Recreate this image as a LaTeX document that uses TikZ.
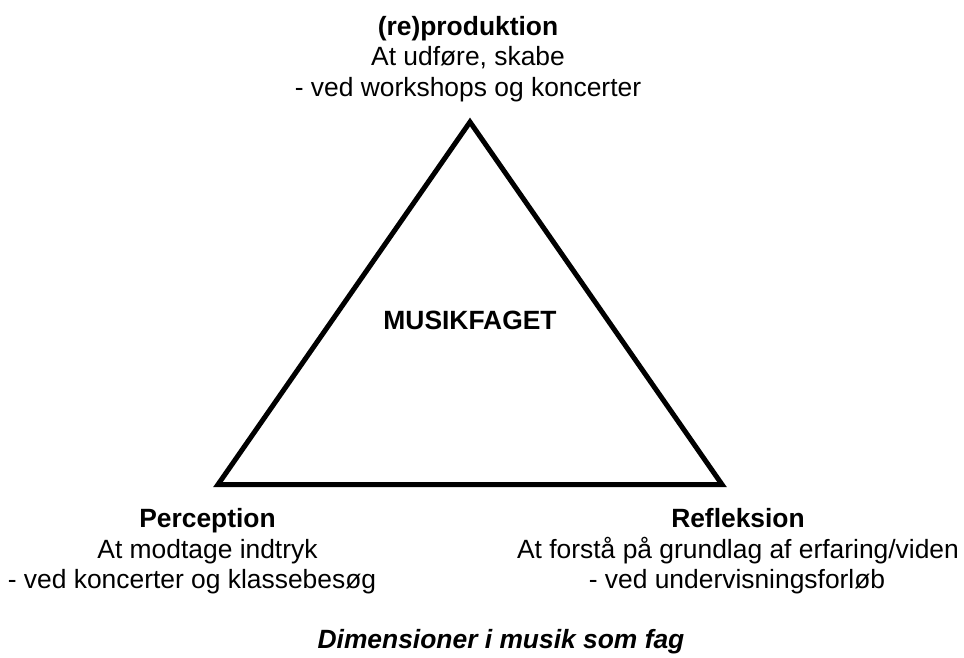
\documentclass[tikz,border=0pt]{standalone}
\usepackage{fontspec}
\setmainfont{Liberation Sans}
\usetikzlibrary{positioning}

\begin{document}
\begin{tikzpicture}[
    x=0.75pt,y=-0.75pt,
    txt/.style={anchor=base,inner sep=0pt,font=\fontsize{19.8}{23}\selectfont},
    hd/.style={txt,font=\fontsize{19.8}{23}\selectfont\bfseries},
    tri/.style={draw,line width=3.75pt,miter limit=10}
  ]
    \useasboundingbox (0,0) rectangle (964,657);

    % the triangle
    \coordinate (apex) at (470,122);
    \coordinate (bl) at (218,484.5);
    \coordinate (br) at (722,484.5);
    \draw[tri] (apex) -- (bl) -- (br) -- cycle;

    \node[hd] (fag) at (470,329) {MUSIKFAGET};

    % top corner
    \node[hd] (prod) at (468,35) {(re)produktion};
    \node[txt] (prod1) at (468,65.5) {At udføre, skabe};
    \node[txt] (prod2) at (468,96) {- ved workshops og koncerter};

    % left corner
    \node[hd] (perc) at (207.5,527) {Perception};
    \node[txt] (perc1) at (207.5,558) {At modtage indtryk};
    \node[txt] (perc2) at (192,588.5) {- ved koncerter og klassebesøg};

    % right corner
    \node[hd] (refl) at (738,527) {Refleksion};
    \node[txt] (refl1) at (738,558) {At forstå på grundlag af erfaring/viden};
    \node[txt] (refl2) at (737,588.5) {- ved undervisningsforløb};

    \node[txt,font=\fontsize{19.8}{23}\selectfont\bfseries\itshape] (cap) at (501,648) {Dimensioner i musik som fag};
\end{tikzpicture}
\end{document}
